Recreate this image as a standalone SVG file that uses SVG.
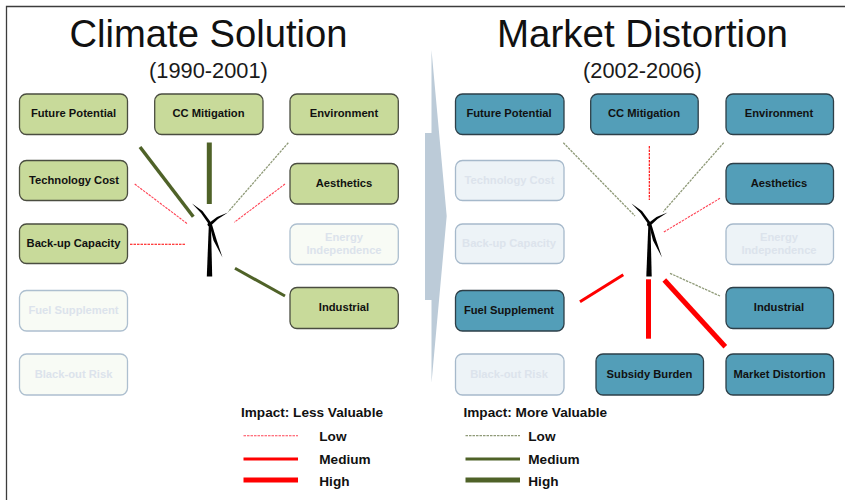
<svg xmlns="http://www.w3.org/2000/svg" width="845" height="500" viewBox="0 0 845 500">
<style>
text{font-family:"Liberation Sans",Arial,sans-serif;text-anchor:middle;fill:#111}
.t{font-size:38.2px}
.s{font-size:21.8px;fill:#1a1a1a}
.n rect{rx:7px;ry:7px;stroke-width:1.3}
.n text{font-size:11.2px;font-weight:bold}
.g rect{fill:#c8da9a;stroke:#4a4d40}
.b rect{fill:#539eb8;stroke:#2d3f48}
.gg rect{fill:#f8fbf5;stroke:#adbfcf}
.gb rect{fill:#edf3f7;stroke:#a6b9cb}
.gg text,.gb text{fill:#dce3ec}
.lg{font-size:13.6px;font-weight:bold;text-anchor:start}
.rl{stroke:#f45;stroke-width:1.1;stroke-dasharray:2.5 1;fill:none}
.ol{stroke:#8f9a78;stroke-width:1.3;stroke-dasharray:2.5 1;fill:none}
.rm{stroke:#f00;stroke-width:3;fill:none}
.rh{stroke:#f00;stroke-width:5;fill:none}
.om{stroke:#4f6228;stroke-width:3;fill:none}
.oh{stroke:#4f6228;stroke-width:5;fill:none}
</style>
<defs>
<g id="turbine" fill="#000">
<path d="M-3.200 52H2.200L1 1H-1.200Z"/>
<path d="M-18 -21L-7.500 -13.500L1 -2L-1 0L-9 -11.500Z"/>
<path d="M18 -12L8 -5.500L1 1L-1 -1.500L7 -7.500Z"/>
<path d="M12.500 33L6.500 15L2 0L-.5 .5L3.500 16Z"/>
<circle cx="-.5" cy="0" r="2"/>
</g>
</defs>
<path d="M6.500 500V6.500H845" fill="none" stroke="#3c3c3c" stroke-width="1.300"/>
<polygon id="transition-arrow" points="425,133 431.500,133 431.500,50 446.700,216 431.500,383 431.500,300 425,300" fill="#bccbd8"/>
<text class="t" x="208.500" y="47">Climate Solution</text>
<text class="s" x="208.500" y="78">(1990-2001)</text>
<text class="t" x="642.500" y="47" style="font-size:38.500px">Market Distortion</text>
<text class="s" x="642.500" y="78">(2002-2006)</text>
<use href="#turbine" x="210" y="224.500"/>
<use href="#turbine" x="649.500" y="224.500"/>
<g id="connectors">
<line class="om" x1="140" y1="147" x2="193.300" y2="216.700" style="stroke-width:3.500"/>
<line class="oh" x1="209.300" y1="142.500" x2="209.300" y2="204"/>
<line class="ol" x1="288.300" y1="142.700" x2="228.300" y2="211.700"/>
<line class="rl" x1="134.700" y1="184" x2="187.700" y2="224"/>
<line class="rl" x1="285" y1="184" x2="234.300" y2="222.300"/>
<line class="rl" x1="130" y1="244.300" x2="185" y2="244.300" style="stroke:#f00"/>
<line class="om" x1="235" y1="268.300" x2="285" y2="296"/>
<line class="ol" x1="563.300" y1="142.700" x2="635" y2="216"/>
<line class="rl" x1="649.300" y1="146" x2="649.300" y2="200" style="stroke:#f00"/>
<line class="ol" x1="723.700" y1="142.700" x2="663.300" y2="211.700"/>
<line class="rl" x1="720" y1="198.300" x2="663.300" y2="232.300"/>
<line class="rm" x1="580" y1="301.700" x2="623.300" y2="274.700"/>
<line class="rh" x1="648.500" y1="279.300" x2="648.500" y2="338.700"/>
<line class="rh" x1="664.300" y1="280" x2="725.300" y2="346.700"/>
<line class="ol" x1="670" y1="273.300" x2="720" y2="296"/>
</g>
<g id="n-l-future" class="n g"><rect x="19.500" y="94" width="108" height="40.500"/><text x="73.500" y="117">Future Potential</text></g>
<g id="n-l-cc" class="n g"><rect x="154.700" y="94" width="108.300" height="40.500"/><text x="208.500" y="117">CC Mitigation</text></g>
<g id="n-l-env" class="n g"><rect x="290" y="94" width="108.300" height="40.500"/><text x="344" y="117">Environment</text></g>
<g id="n-l-tech" class="n g"><rect x="19.500" y="160.500" width="108" height="40"/><text x="74" y="183.500">Technology Cost</text></g>
<g id="n-l-aes" class="n g"><rect x="290" y="163.500" width="108.300" height="40.500"/><text x="344" y="186.500">Aesthetics</text></g>
<g id="n-l-backup" class="n g"><rect x="19.500" y="224" width="108" height="39.500"/><text x="73.500" y="247">Back-up Capacity</text></g>
<g id="n-l-energy" class="n gg"><rect x="290" y="224" width="108.300" height="40.500"/><text x="344" y="241">Energy</text><text x="344" y="254">Independence</text></g>
<g id="n-l-fuel" class="n gg"><rect x="19.500" y="290.500" width="108" height="40.500"/><text x="73.500" y="313.500">Fuel Supplement</text></g>
<g id="n-l-ind" class="n g"><rect x="290" y="287.500" width="108.300" height="41"/><text x="344" y="311">Industrial</text></g>
<g id="n-l-black" class="n gg"><rect x="19.500" y="354" width="108" height="41"/><text x="73.500" y="378">Black-out Risk</text></g>
<g id="n-r-future" class="n b"><rect x="455.500" y="94" width="108.500" height="40.500"/><text x="509" y="117">Future Potential</text></g>
<g id="n-r-cc" class="n b"><rect x="590.700" y="94" width="107.500" height="40.500"/><text x="644" y="117">CC Mitigation</text></g>
<g id="n-r-env" class="n b"><rect x="726" y="94" width="107.500" height="40.500"/><text x="779" y="117">Environment</text></g>
<g id="n-r-tech" class="n gb"><rect x="455.500" y="160.500" width="108.500" height="40"/><text x="509.500" y="183.500">Technology Cost</text></g>
<g id="n-r-aes" class="n b"><rect x="726" y="163.500" width="107.500" height="40.500"/><text x="779" y="186.500">Aesthetics</text></g>
<g id="n-r-backup" class="n gb"><rect x="455.500" y="224" width="108.500" height="39.500"/><text x="509" y="247">Back-up Capacity</text></g>
<g id="n-r-energy" class="n gb"><rect x="726" y="224" width="107.500" height="40.500"/><text x="779" y="241">Energy</text><text x="779" y="254">Independence</text></g>
<g id="n-r-fuel" class="n b"><rect x="455.500" y="290.500" width="108.500" height="40.500"/><text x="509" y="313.500">Fuel Supplement</text></g>
<g id="n-r-ind" class="n b"><rect x="726" y="287.500" width="107.500" height="41"/><text x="779" y="311">Industrial</text></g>
<g id="n-r-black" class="n gb"><rect x="455.500" y="354" width="108.500" height="41"/><text x="509" y="378">Black-out Risk</text></g>
<g id="n-r-subsidy" class="n b"><rect x="596" y="354" width="107.500" height="41"/><text x="649.500" y="378">Subsidy Burden</text></g>
<g id="n-r-market" class="n b"><rect x="726" y="354" width="107.500" height="41"/><text x="779.500" y="378">Market Distortion</text></g>
<g id="legend-left">
<text class="lg" x="241" y="417" textLength="142">Impact: Less Valuable</text>
<line class="rl" x1="243.500" y1="435.700" x2="298" y2="435.700"/>
<line class="rm" x1="243.500" y1="459" x2="298" y2="459"/>
<line class="rh" x1="243.500" y1="480" x2="298" y2="480"/>
<text class="lg" x="319.300" y="440.700">Low</text><text class="lg" x="319.300" y="463.700">Medium</text><text class="lg" x="319.300" y="485.600">High</text>
</g>
<g id="legend-right">
<text class="lg" x="463.500" y="417">Impact: More Valuable</text>
<line class="ol" x1="465.500" y1="435.700" x2="520" y2="435.700"/>
<line class="om" x1="465.500" y1="459" x2="520" y2="459"/>
<line class="oh" x1="465.500" y1="480" x2="520" y2="480"/>
<text class="lg" x="528.300" y="440.700">Low</text><text class="lg" x="528.300" y="463.700">Medium</text><text class="lg" x="528.300" y="485.600">High</text>
</g>
</svg>
